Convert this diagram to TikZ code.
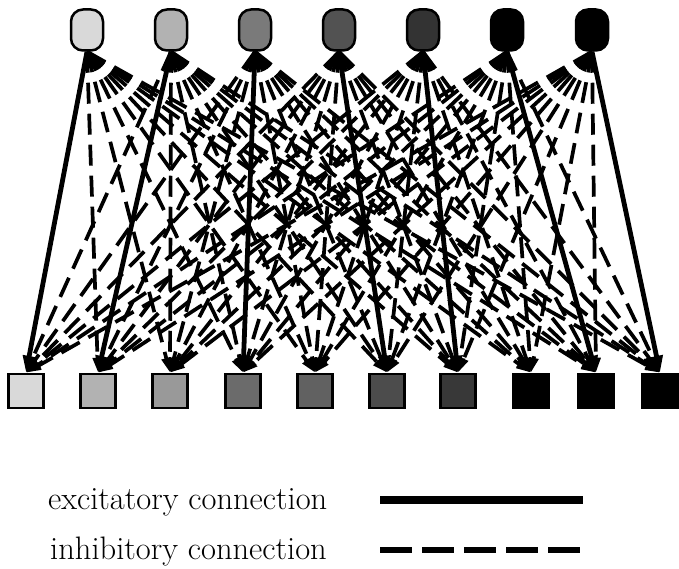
\documentclass[tikz,border=0pt]{standalone}
\usetikzlibrary{arrows.meta}
\begin{document}
\begin{tikzpicture}[x=1pt,y=-1pt,
  topnode/.style={draw=black, line width=2.5pt, rounded corners=12pt, minimum width=32pt, minimum height=41pt, inner sep=0pt},
  botnode/.style={draw=black, line width=2.5pt, minimum width=35pt, minimum height=34pt, inner sep=0pt},
  exc/.style={line width=4.8pt, -{Triangle[length=17pt,width=12pt]}},
  inh/.style={line width=3.7pt, dash pattern=on 21pt off 10pt, -{Triangle[length=15pt,width=9pt]}},
  legtext/.style={anchor=base west, inner sep=0pt, font=\fontsize{32.5}{38}\selectfont}]
\useasboundingbox (0,0) rectangle (679,569);
% top nodes
\foreach \i/\x/\c in {1/87/15, 2/171/30, 3/255/52, 4/339/68, 5/423/80, 6/507/100, 7/592/100}
  {\node[topnode, fill=black!\c] (t\i) at (\x,30) {};}
% bottom nodes
\foreach \j/\x/\c in {1/26/15, 2/98/30, 3/170/40, 4/243/58, 5/315/62, 6/387/70, 7/458/78, 8/531/100, 9/596/100, 10/660/100}
  {\node[botnode, fill=black!\c] (b\j) at (\x,391) {};}
% inhibitory connections
\foreach \i/\e in {1/1, 2/2, 3/4, 4/6, 5/7, 6/9, 7/10} {
  \foreach \j in {1,...,10} {
    \ifnum\j=\e\relax\else
      \draw[inh] (t\i.south) -- (b\j.north);
    \fi
  }
}
% excitatory connections
\foreach \i/\e in {1/1, 2/2, 3/4, 4/6, 5/7, 6/9, 7/10}
  {\draw[exc] (t\i.south) -- (b\e.north);}
% legend
\node[legtext] (lex) at (48,509) {excitatory connection};
\node[legtext] (lin) at (50,559) {inhibitory connection};
\coordinate (ea) at (380,500);
\coordinate (eb) at (583,500);
\coordinate (ia) at (380,550);
\coordinate (ib) at (583,550);
\draw[line width=8pt] (ea) -- (eb);
\draw[line width=6pt, dash pattern=on 32pt off 10pt] (ia) -- (ib);
\end{tikzpicture}
\end{document}
